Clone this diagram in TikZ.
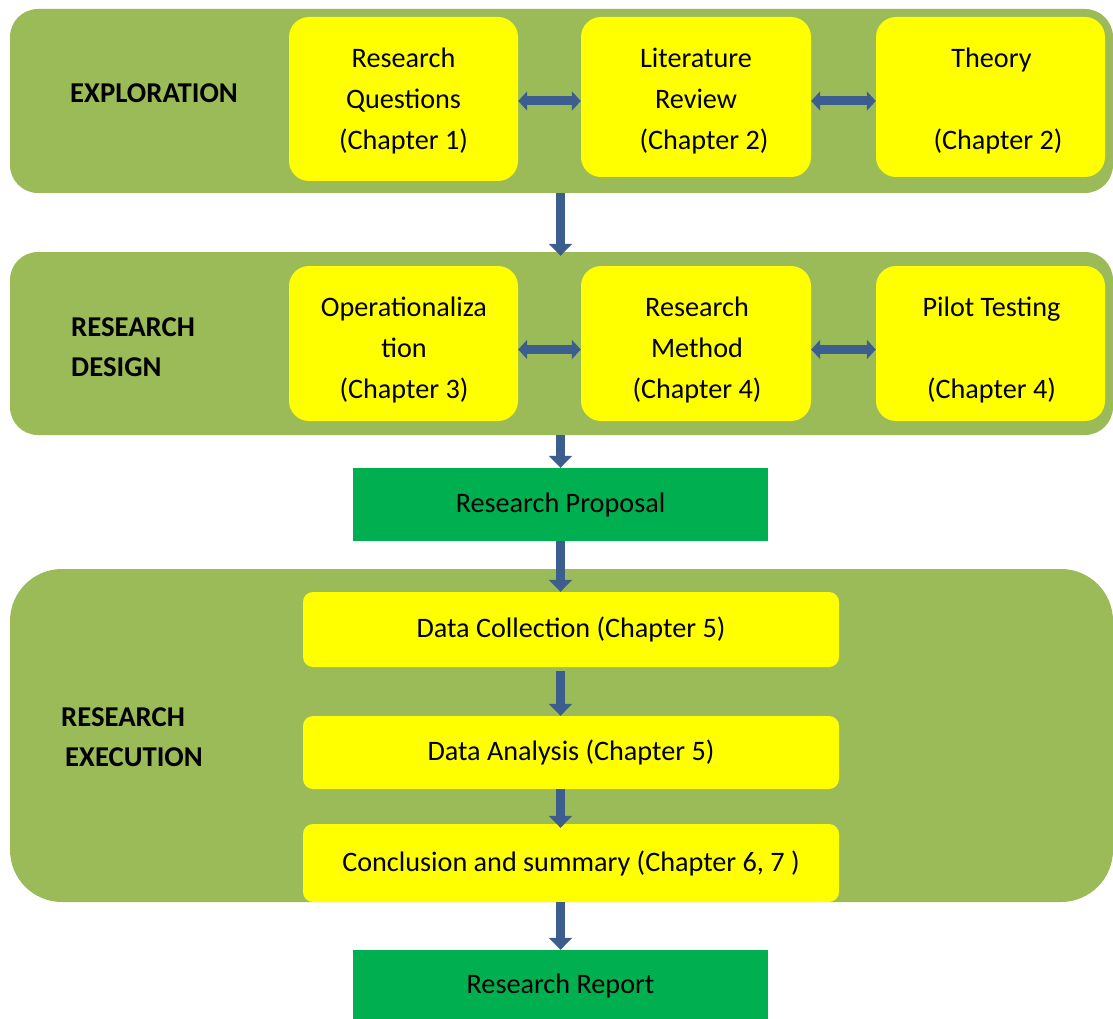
\documentclass[tikz,border=0pt]{standalone}
\usepackage{fontspec}
\setmainfont{Carlito}
\usetikzlibrary{arrows.meta}
\definecolor{panelgreen}{HTML}{9BBB59}
\definecolor{boxyellow}{HTML}{FFFF00}
\definecolor{boxgreen}{HTML}{00B050}
\definecolor{arrowblue}{HTML}{3B5E8F}
\begin{document}
\begin{tikzpicture}[x=1pt,y=-1pt,
  panel/.style={fill=panelgreen, inner sep=0pt, minimum width=1103pt},
  ybox/.style={fill=boxyellow, inner sep=0pt, rounded corners=20pt},
  dbox/.style={fill=boxyellow, inner sep=0pt, rounded corners=10pt, minimum width=536pt, font=\fontsize{28.2}{41}\selectfont},
  gbox/.style={fill=boxgreen, inner sep=0pt, minimum width=415pt, font=\fontsize{28.2}{41}\selectfont},
  txt/.style={font=\fontsize{28.2}{41}\selectfont, align=center, inner sep=0pt, text=black},
  lbl/.style={font=\fontsize{28.7}{40}\selectfont\bfseries, align=left, inner sep=0pt, anchor=west},
  harr/.style={draw=arrowblue, line width=9pt, {Triangle[width=19pt,length=9pt]}-{Triangle[width=19pt,length=9pt]}},
  varr/.style={draw=arrowblue, line width=9pt, -{Triangle[width=23pt,length=12pt]}},
]
\useasboundingbox (0,0) rectangle (1113,1019);

% panels
\node[panel, rounded corners=28pt, minimum height=184pt] (p1) at (561.5,101) {};
\node[panel, rounded corners=28pt, minimum height=183pt] (p2) at (561.5,343.5) {};
\node[panel, rounded corners=52pt, minimum height=333pt] (p3) at (561.5,735.5) {};

% panel labels
\node[lbl] (l1) at (70,93) {EXPLORATION};
\node[lbl] (l2) at (71,347) {RESEARCH\\DESIGN};
\node[lbl] (l3) at (61,737) {RESEARCH\\\hspace*{4pt}EXECUTION};

% row 1
\node[ybox, minimum width=229pt, minimum height=164pt] (b1) at (403.5,99) {};
\node[ybox, minimum width=230pt, minimum height=160pt] (b2) at (696,97) {};
\node[ybox, minimum width=229pt, minimum height=160pt] (b3) at (990.5,97) {};
\node[txt] (t1) at (403.5,101) {Research\\Questions\\(Chapter 1)};
\node[txt] (t2) at (696,101) {Literature\\Review\\\hspace*{16pt}(Chapter 2)};
\node[txt] (t3) at (991.5,101) {Theory\\\mbox{}\\\hspace*{13pt}(Chapter 2)};

% row 2
\node[ybox, minimum width=229pt, minimum height=155pt] (b4) at (403.5,343.5) {};
\node[ybox, minimum width=230pt, minimum height=155pt] (b5) at (696,343.5) {};
\node[ybox, minimum width=229pt, minimum height=155pt] (b6) at (990.5,343.5) {};
\node[txt] (t4) at (404,349.5) {Operationaliza\\tion\\(Chapter 3)};
\node[txt] (t5) at (697,349.5) {Research\\Method\\(Chapter 4)};
\node[txt] (t6) at (991.5,349.5) {Pilot Testing\\\mbox{}\\(Chapter 4)};

% green boxes
\node[gbox, minimum height=73pt] (rp) at (560.5,504.5) {Research Proposal};
\node[gbox, minimum height=72pt] (rr) at (560.5,986) {Research Report};

% execution boxes
\node[dbox, minimum height=75pt] (dc) at (571,629.5) {Data Collection (Chapter 5)};
\node[dbox, minimum height=73pt] (da) at (571,752.5) {Data Analysis (Chapter 5)};
\node[dbox, minimum height=78pt] (cs) at (571,863) {Conclusion and summary (Chapter 6, 7 )};

% horizontal double arrows
\draw[harr] (b1.east |- t1) -- (b2.west |- t1);
\draw[harr] (b2.east |- t2) -- (b3.west |- t2);
\draw[harr] (b4.east |- t4) -- (b5.west |- t4);
\draw[harr] (b5.east |- t5) -- (b6.west |- t5);

% vertical arrows
\draw[varr, shorten >=-4pt] (p1.south -| rp) -- (p2.north -| rp);
\draw[varr] (p2.south -| rp) -- (rp.north);
\draw[varr] (rp.south) -- (dc.north -| rp);
\draw[varr, shorten <=4pt] (dc.south -| rp) -- (da.north -| rp);
\draw[varr, shorten >=-4pt] (da.south -| rp) -- (cs.north -| rp);
\draw[varr] (cs.south -| rp) -- (rr.north);
\end{tikzpicture}
\end{document}
